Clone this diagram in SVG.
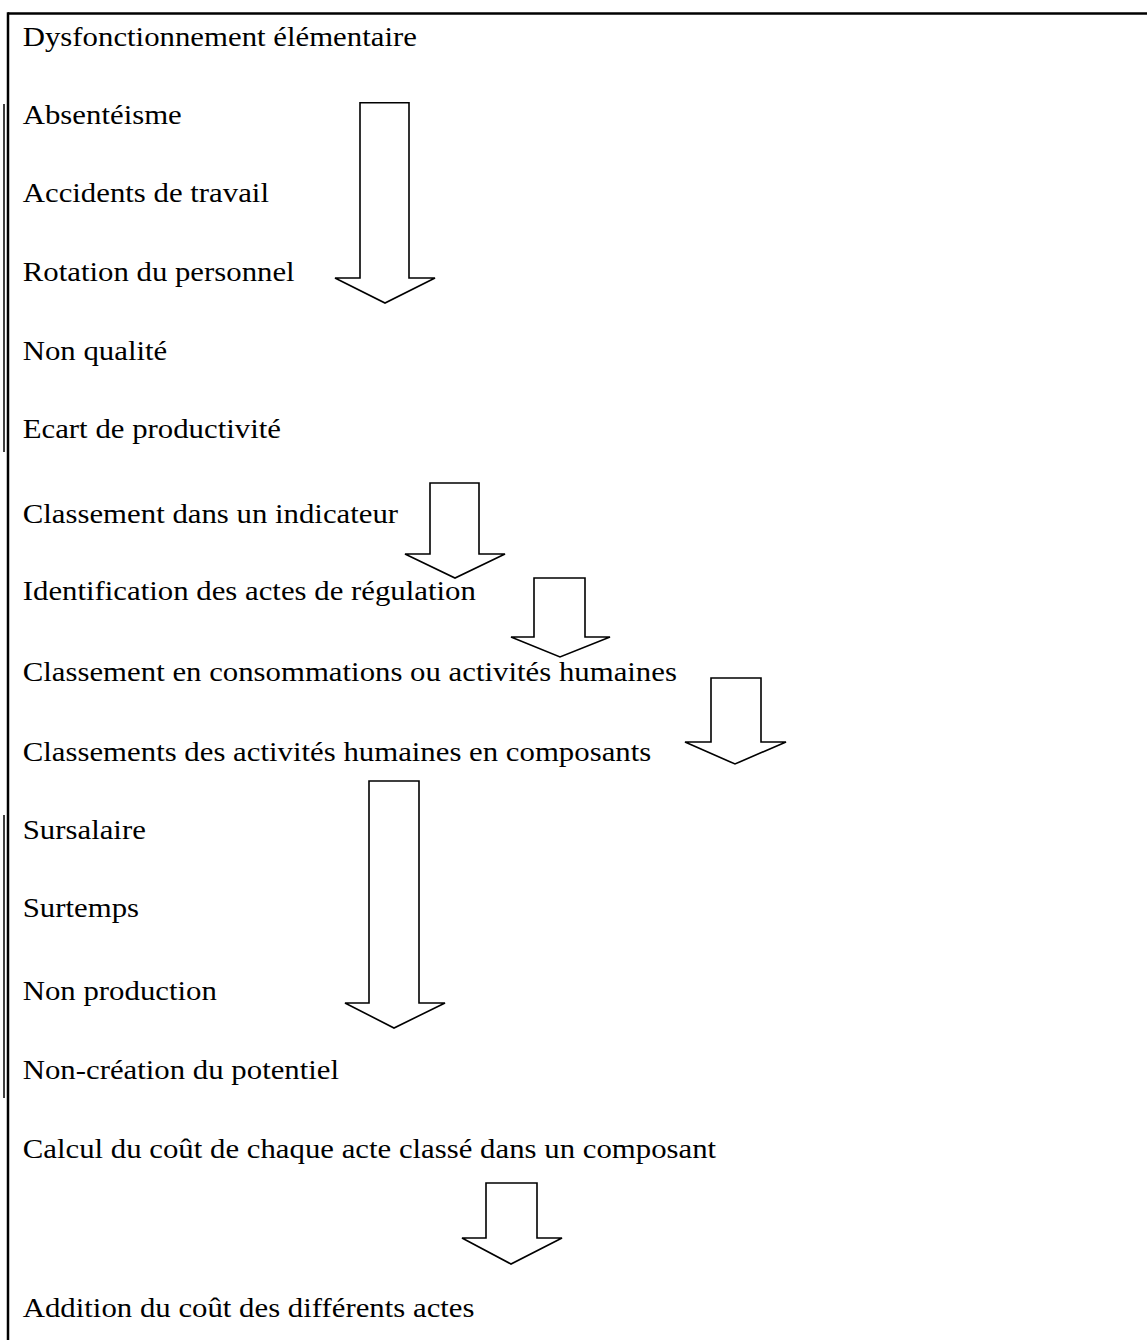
<svg xmlns="http://www.w3.org/2000/svg" width="1147" height="1340" viewBox="0 0 1147 1340">
<style>
.t{font-family:"Liberation Serif","Times New Roman",serif;font-size:27.5px;fill:#000}
.a{fill:#fff;stroke:#000;stroke-width:1.6;stroke-linejoin:miter}
.b{stroke:#000;fill:none}
</style>
<rect width="1147" height="1340" fill="#fff"/>
<g id="frame">
<line class="b" x1="8" y1="13.5" x2="1147" y2="13.5" stroke-width="2.5"/>
<line class="b" x1="8" y1="12.3" x2="8" y2="1340" stroke-width="2.5"/>
<line class="b" x1="4" y1="104" x2="4" y2="452" stroke-width="1.5"/>
<line class="b" x1="4" y1="815" x2="4" y2="1098" stroke-width="1.5"/>
</g>
<g id="labels" transform="scale(1.12,1)">
<text class="t" x="20.3" y="46">Dysfonctionnement élémentaire</text>
<text class="t" x="20.3" y="124">Absentéisme</text>
<text class="t" x="20.3" y="202">Accidents de travail</text>
<text class="t" x="20.3" y="281">Rotation du personnel</text>
<text class="t" x="20.3" y="360">Non qualité</text>
<text class="t" x="20.3" y="438">Ecart de productivité</text>
<text class="t" x="20.3" y="523">Classement dans un indicateur</text>
<text class="t" x="20.3" y="600">Identification des actes de régulation</text>
<text class="t" x="20.3" y="681">Classement en consommations ou activités humaines</text>
<text class="t" x="20.3" y="761">Classements des activités humaines en composants</text>
<text class="t" x="20.3" y="839">Sursalaire</text>
<text class="t" x="20.3" y="917">Surtemps</text>
<text class="t" x="20.3" y="1000">Non production</text>
<text class="t" x="20.3" y="1079">Non-création du potentiel</text>
<text class="t" x="20.3" y="1158">Calcul du coût de chaque acte classé dans un composant</text>
<text class="t" x="20.3" y="1317">Addition du coût des différents actes</text>
</g>
<g id="connectors">
<polygon id="arrow1" class="a" points="360,102.7 409,102.7 409,278 435,278 385,303 335,278 360,278"/>
<polygon id="arrow2" class="a" points="430,483 479,483 479,554 505,554 455,578 405,554 430,554"/>
<polygon id="arrow3" class="a" points="534,578 585,578 585,637 610,637 560,657 511,637 534,637"/>
<polygon id="arrow4" class="a" points="711,678 761,678 761,742 786,742 735,764 685,742 711,742"/>
<polygon id="arrow5" class="a" points="369,781 419,781 419,1003 445,1003 394,1028 345,1003 369,1003"/>
<polygon id="arrow6" class="a" points="486,1183 537,1183 537,1238 562,1238 511,1264 462,1238 486,1238"/>
</g>
</svg>
